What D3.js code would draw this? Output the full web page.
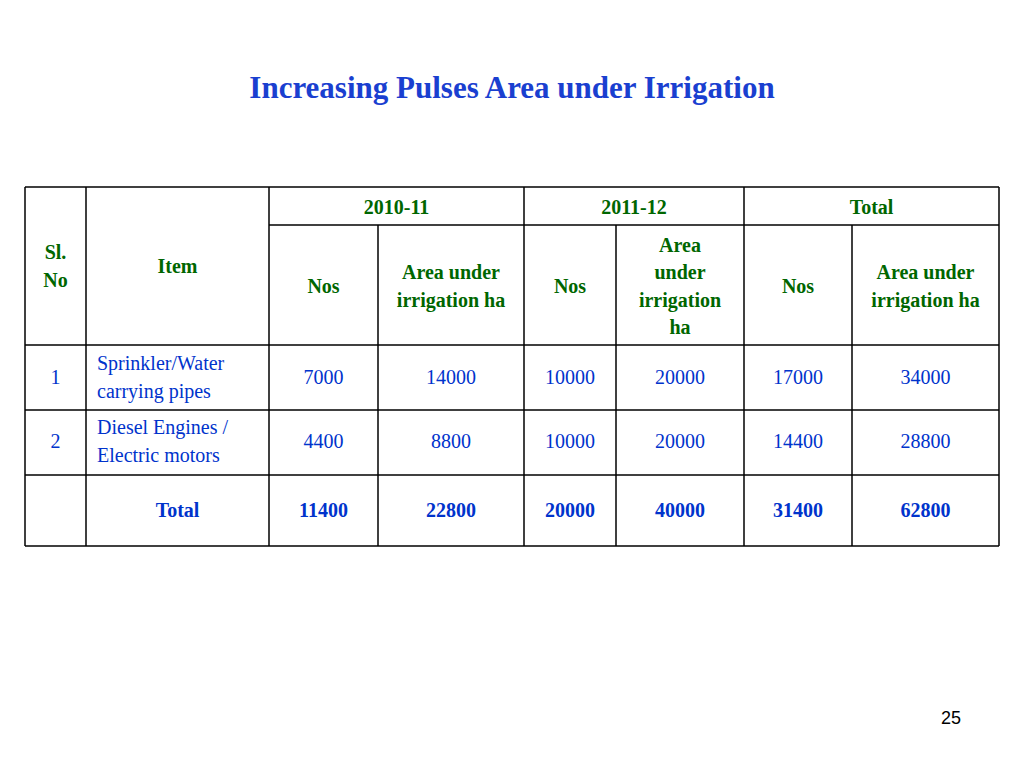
<!DOCTYPE html>
<html><head><meta charset="utf-8">
<script src="https://d3js.org/d3.v7.min.js"></script>
<style>body{margin:0;background:#fff}</style></head>
<body><svg id="c" width="1024" height="768"></svg>
<script>
const slNo = ["1","2",""];
const items = [["Sprinkler/Water","carrying pipes"],["Diesel Engines /","Electric motors"],["Total"]];
const nos2010 = [7000,4400,11400];
const area2010 = [14000,8800,22800];
const nos2011 = [10000,10000,20000];
const area2011 = [20000,20000,40000];
const nosTotal = [17000,14400,31400];
const areaTotal = [34000,28800,62800];
const years = ["2010-11","2011-12","Total"];

const svg = d3.select("#c");
const green = "#006600", blue = "#0033cc", font = "'Liberation Serif','Times New Roman',serif";
svg.append("text").attr("x",512).attr("y",98).attr("text-anchor","middle")
  .attr("font-family",font).attr("font-weight","bold").attr("font-size",31).attr("fill","#1a3fd0")
  .text("Increasing Pulses Area under Irrigation");
svg.append("text").attr("x",951).attr("y",724).attr("text-anchor","middle")
  .attr("font-family","'Liberation Sans',Arial,sans-serif").attr("font-size",18).text("25");

const colX = [25,86,269,378,524,616,744,852,999];
const rowY = [187,225,345,410,475,546];
const g = svg.append("g").attr("stroke","#000").attr("stroke-width",1.5);
// outer & row lines
[rowY[0],rowY[2],rowY[3],rowY[4],rowY[5]].forEach(y=>g.append("line").attr("x1",colX[0]).attr("x2",colX[8]).attr("y1",y).attr("y2",y));
g.append("line").attr("x1",colX[2]).attr("x2",colX[8]).attr("y1",rowY[1]).attr("y2",rowY[1]);
colX.forEach((x,i)=>{
  const top = (i===0||i===1||i===2||i===4||i===6||i===8)?rowY[0]:rowY[1];
  g.append("line").attr("x1",x).attr("x2",x).attr("y1",top).attr("y2",rowY[5]);
});
function txt(x,y,lines,opt){
  const t = svg.append("text").attr("x",x).attr("text-anchor",opt.anchor||"middle")
    .attr("font-family",font).attr("font-size",20).attr("fill",opt.fill)
    .attr("font-weight",opt.bold?"bold":"normal");
  const lh=27.3, y0 = y - (lines.length-1)*lh/2;
  lines.forEach((l,i)=>t.append("tspan").attr("x",x).attr("y",y0+i*lh+7).text(l));
}
const cx = i=>(colX[i]+colX[i+1])/2;
txt(cx(0),266,["Sl.","No"],{fill:green,bold:true});
txt(cx(1),266,["Item"],{fill:green,bold:true});
years.forEach((y,i)=>txt((colX[2+2*i]+colX[4+2*i])/2,207,[y],{fill:green,bold:true}));
txt(cx(2),286,["Nos"],{fill:green,bold:true});
txt(cx(3),286,["Area under","irrigation ha"],{fill:green,bold:true});
txt(cx(4),286,["Nos"],{fill:green,bold:true});
txt(cx(5),286,["Area","under","irrigation","ha"],{fill:green,bold:true});
txt(cx(6),286,["Nos"],{fill:green,bold:true});
txt(cx(7),286,["Area under","irrigation ha"],{fill:green,bold:true});
const cols=[nos2010,area2010,nos2011,area2011,nosTotal,areaTotal];
const rowMid=[377,441,510];
rowMid.forEach((y,r)=>{
  const bold = r===2;
  txt(cx(0),y,[slNo[r]],{fill:blue});
  if(bold) txt(cx(1),y,items[r],{fill:blue,bold:true});
  else txt(97,y,items[r],{fill:blue,anchor:"start"});
  cols.forEach((c,j)=>txt(cx(2+j),y,[String(c[r])],{fill:blue,bold}));
});
</script></body></html>
